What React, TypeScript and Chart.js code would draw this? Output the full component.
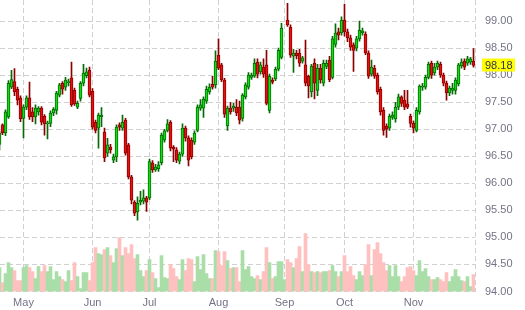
import React, { useEffect, useRef } from "react";
import { Chart, registerables } from "chart.js";

Chart.register(...registerables);

// Daily candles (index 95 is an empty session)
const opens: (number | null)[] = [
  96.72, 97.08, 96.93, 97.23, 97.78, 97.88, 97.74, 97.58, 97.2, 97.41,
  97.58, 97.32, 97.23, 97.32, 97.39, 97.24, 97.1, 97.11, 97.3, 97.35,
  97.63, 97.85, 97.78, 97.86, 97.95, 97.72, 97.41, 97.57, 97.85, 97.99,
  98.09, 97.7, 97.13, 97.02, 97.23, 96.95, 96.56, 96.67, 96.43, 96.49,
  97.08, 97.02, 97.17, 96.71, 96.12, 95.65, 95.47, 95.65, 95.67, 95.73,
  95.73, 96.38, 96.25, 96.27, 96.38, 96.8, 96.98, 97.13, 96.67, 96.62,
  96.41, 96.54, 97.02, 96.84, 96.8, 96.76, 96.98, 97.39, 97.39, 97.52,
  97.69, 97.83, 97.82, 98.37, 98.19, 97.91, 97.06, 97.39, 97.39, 97.41,
  97.41, 97.2, 97.6, 97.78, 97.96, 97.98, 98.24, 98.06, 98.15, 98.19,
  97.35, 97.91, 97.93, 98.11, 98.33, null, 99.02, 98.89, 98.35, 98.41,
  98.41, 98.26, 98.19, 97.98, 97.69, 98.22, 97.72, 98.13, 97.85, 98.16,
  98.28, 97.96, 98.57, 98.8, 98.78, 99.02, 98.8, 98.69, 98.56, 98.5,
  98.67, 98.78, 98.76, 98.41, 98.02, 98.13, 98.0, 97.74, 97.35, 97.06,
  97.02, 97.22, 97.19, 97.41, 97.6, 97.54, 97.47, 97.24, 97.11, 96.98,
  97.32, 97.78, 97.78, 97.96, 98.22, 98.04, 98.15, 98.2, 98.0, 97.85,
  97.67, 97.72, 97.72, 97.84, 98.17, 98.26, 98.22, 98.24, 98.26,
];
const highs: (number | null)[] = [
  96.96, 97.1, 97.36, 97.9, 98.09, 98.12, 97.78, 97.62, 97.45, 97.62,
  97.87, 97.4, 97.45, 97.42, 97.42, 97.27, 97.15, 97.34, 97.4, 97.7,
  97.85, 97.88, 97.96, 97.93, 98.24, 97.76, 97.52, 97.88, 98.2, 98.13,
  98.15, 97.75, 97.17, 97.3, 97.4, 97.02, 96.83, 96.72, 96.54, 97.08,
  97.12, 97.26, 97.2, 96.74, 96.15, 95.68, 95.75, 95.85, 95.88, 95.76,
  96.45, 96.42, 96.35, 96.4, 96.93, 97.0, 97.18, 97.16, 96.7, 96.66,
  96.58, 97.1, 97.06, 96.88, 96.84, 96.97, 97.45, 97.55, 97.6, 97.8,
  97.84, 97.98, 98.45, 98.67, 98.22, 97.94, 97.43, 97.5, 97.48, 97.55,
  97.52, 97.66, 97.86, 98.05, 98.04, 98.3, 98.3, 98.24, 98.3, 98.46,
  98.02, 97.95, 98.15, 98.5, 98.96, null, 99.33, 98.93, 98.48, 98.46,
  98.48, 98.35, 98.65, 98.0, 98.2, 98.3, 98.2, 98.2, 98.28, 98.28,
  98.35, 98.72, 98.95, 98.87, 99.08, 99.31, 98.85, 98.74, 98.6, 98.72,
  99.0, 98.87, 98.8, 98.45, 98.28, 98.18, 98.04, 97.78, 97.4, 97.1,
  97.28, 97.32, 97.5, 97.65, 97.62, 97.72, 97.72, 97.28, 97.15, 97.4,
  97.82, 97.85, 98.0, 98.24, 98.26, 98.22, 98.26, 98.24, 98.04, 97.89,
  97.8, 97.85, 97.95, 98.22, 98.3, 98.3, 98.35, 98.33, 98.49,
];
const lows: (number | null)[] = [
  96.62, 96.9, 96.88, 97.2, 97.75, 97.62, 97.45, 97.14, 96.84, 97.36,
  97.18, 97.14, 97.1, 97.26, 97.08, 96.89, 96.82, 97.05, 97.25, 97.28,
  97.6, 97.65, 97.72, 97.8, 97.42, 97.44, 97.38, 97.52, 97.8, 97.95,
  97.6, 97.0, 96.93, 96.65, 97.05, 96.4, 96.5, 96.56, 96.38, 96.4,
  96.98, 96.98, 96.52, 96.08, 95.62, 95.4, 95.32, 95.6, 95.62, 95.48,
  95.7, 96.2, 96.22, 96.22, 96.34, 96.76, 96.95, 96.6, 96.4, 96.38,
  96.36, 96.5, 96.78, 96.32, 96.45, 96.72, 96.95, 97.35, 97.22, 97.48,
  97.65, 97.74, 97.76, 98.1, 97.88, 97.22, 96.98, 97.28, 97.33, 97.25,
  97.1, 97.15, 97.56, 97.74, 97.92, 97.96, 97.95, 98.02, 97.96, 97.45,
  97.3, 97.84, 97.9, 98.08, 98.3, null, 98.9, 98.33, 98.05, 98.3,
  98.16, 98.22, 97.8, 97.58, 97.6, 97.56, 97.62, 97.85, 97.8, 98.12,
  97.88, 97.93, 98.52, 98.65, 98.74, 98.72, 98.62, 98.46, 98.07, 98.45,
  98.63, 98.74, 98.38, 97.94, 97.98, 97.94, 97.65, 97.26, 96.89, 96.85,
  96.98, 97.18, 97.13, 97.36, 97.42, 97.36, 97.38, 97.04, 96.93, 96.95,
  97.28, 97.72, 97.74, 97.93, 97.94, 98.0, 98.1, 97.96, 97.8, 97.54,
  97.62, 97.65, 97.65, 97.8, 98.13, 98.1, 98.18, 98.2, 98.15,
];
const closes: (number | null)[] = [
  96.93, 96.93, 97.32, 97.85, 97.92, 97.69, 97.54, 97.19, 97.41, 97.58,
  97.23, 97.23, 97.39, 97.39, 97.13, 97.1, 97.12, 97.3, 97.37, 97.67,
  97.82, 97.74, 97.91, 97.88, 97.45, 97.47, 97.48, 97.85, 98.04, 98.06,
  97.63, 97.04, 96.98, 97.26, 97.26, 96.47, 96.71, 96.62, 96.49, 97.04,
  97.04, 97.13, 96.56, 96.12, 95.69, 95.45, 95.63, 95.69, 95.73, 95.65,
  96.4, 96.25, 96.3, 96.34, 96.89, 96.97, 97.1, 96.65, 96.63, 96.43,
  96.54, 97.02, 96.84, 96.43, 96.49, 96.93, 97.41, 97.45, 97.56, 97.74,
  97.78, 97.78, 98.26, 98.13, 97.91, 97.28, 97.39, 97.32, 97.43, 97.3,
  97.17, 97.63, 97.82, 98.0, 98.0, 98.22, 98.02, 98.19, 98.02, 97.48,
  97.98, 97.87, 98.11, 98.46, 98.87, null, 98.93, 98.37, 98.41, 98.36,
  98.22, 98.32, 97.85, 97.8, 98.17, 97.85, 98.13, 97.91, 98.22, 98.22,
  97.91, 98.67, 98.78, 98.74, 99.02, 98.8, 98.69, 98.52, 98.46, 98.67,
  98.83, 98.82, 98.41, 97.98, 98.15, 97.98, 97.69, 97.32, 96.98, 97.0,
  97.24, 97.26, 97.41, 97.6, 97.48, 97.41, 97.41, 97.11, 97.02, 97.35,
  97.8, 97.8, 97.96, 98.2, 98.0, 98.15, 98.22, 98.0, 97.85, 97.67,
  97.76, 97.76, 97.91, 98.19, 98.24, 98.15, 98.3, 98.3, 98.18,
];
// Volume, thousands of contracts
const volumes: number[] = [
  24, 9, 18, 29, 24, 21, 11, 11, 24, 26, 24, 20, 13, 25, 20, 26, 20, 25, 12, 20,
  15, 12, 10, 21, 11, 29, 15, 3, 19, 19, 11, 29, 44, 38, 37, 42, 44, 36, 29, 43,
  54, 36, 44, 38, 47, 33, 37, 21, 15, 21, 32, 19, 13, 4, 36, 14, 13, 27, 23,
  15, 12, 32, 21, 33, 32, 10, 35, 22, 37, 18, 13, 13, 41, 40, 26, 40, 31, 23, 24,
  24, 10, 41, 22, 25, 15, 13, 16, 12, 20, 44, 29, 13, 15, 30, 30, 12, 32, 29, 24,
  33, 45, 20, 58, 27, 20, 19, 20, 19, 20, 20, 21, 26, 20, 15, 20, 36, 20,
  25,
  16, 12, 20, 16, 27, 47, 16, 42, 49, 38, 29, 21, 26, 15, 26, 15, 10, 15, 24, 25,
  21, 16, 31, 20, 23, 15, 12, 12, 14, 12, 10, 19, 10, 15, 22, 15, 11, 10, 15, 5, 17,
];
const monthTickIdx = [8, 31, 50, 73, 95, 115, 138];
const monthLabels = ["May", "Jun", "Jul", "Aug", "Sep", "Oct", "Nov"];
const priceTicks = [94, 94.5, 95, 95.5, 96, 96.5, 97, 97.5, 98, 98.5, 99];
const priceMin = 94;
const priceMax = 99.39;
const lastPrice = 98.18;

const X_MIN = 1 / 6;
const X_MAX = 158.5;
const VOL_MAX = 291.5;

const GREEN_BODY = "#14dc14";
const GREEN_LINE = "#056b05";
const RED_BODY = "#e81010";
const RED_LINE = "#8c0000";
const VOL_UP = "#aadea8";
const VOL_DOWN = "#ffc0c0";
const GRID = "#d0d0d0";
const LABEL = "#737386";
const FONT = "'Liberation Sans', Arial, sans-serif";

export default function App() {
  const ref = useRef<HTMLCanvasElement>(null);

  useEffect(() => {
    if (!ref.current) return;
    const isUp = (i: number) => closes[i] == null || (closes[i] as number) >= (opens[i] as number);
    const idx = closes.map((_, i) => i).filter((i) => closes[i] != null);

    const wickData = idx.map((i) => ({ x: i, y: [lows[i], highs[i]] }));
    const bodyData = idx.map((i) => ({ x: i, y: [opens[i], closes[i]] }));
    const volData = volumes.map((v, i) => ({ x: i, y: v }));

    const priceTag = {
      id: "priceTag",
      afterDraw(chart: any) {
        const c = chart.ctx;
        const y = chart.scales.y.getPixelForValue(lastPrice);
        c.save();
        c.fillStyle = "#ffff00";
        c.fillRect(482, Math.round(y) - 6.5, 33, 13);
        c.fillStyle = "#333344";
        c.font = `11px ${FONT}`;
        c.textBaseline = "middle";
        c.textAlign = "left";
        c.fillText(lastPrice.toFixed(2), 485, y + 0.5);
        c.restore();
      },
    };

    const chart = new Chart(ref.current, {
      type: "bar",
      data: {
        datasets: [
          {
            label: "body",
            data: bodyData as any,
            backgroundColor: idx.map((i) => (isUp(i) ? GREEN_BODY : RED_BODY)),
            borderColor: idx.map((i) => (isUp(i) ? GREEN_LINE : RED_LINE)),
            borderWidth: 1,
            borderSkipped: false,
            barThickness: 3,
            minBarLength: 1,
            grouped: false,
            order: 0,
            yAxisID: "y",
          } as any,
          {
            label: "wick",
            data: wickData as any,
            backgroundColor: idx.map((i) => (isUp(i) ? GREEN_LINE : RED_LINE)),
            borderWidth: 0,
            barThickness: 1,
            grouped: false,
            order: 1,
            yAxisID: "y",
          } as any,
          {
            label: "volume",
            data: volData as any,
            backgroundColor: volumes.map((_, i) => (isUp(i) ? VOL_UP : VOL_DOWN)),
            borderWidth: 0,
            barThickness: 3,
            grouped: false,
            order: 2,
            yAxisID: "vol",
          } as any,
        ],
      },
      options: {
        responsive: false,
        animation: false,
        devicePixelRatio: 1,
        events: [],
        layout: { padding: 0 },
        plugins: { legend: { display: false }, tooltip: { enabled: false } },
        scales: {
          x: {
            type: "linear",
            offset: false,
            min: X_MIN,
            max: X_MAX,
            afterBuildTicks: (scale: any) => {
              scale.ticks = [...monthTickIdx.map((v) => ({ value: v })), { value: X_MAX }];
            },
            afterFit: (scale: any) => {
              scale.height = 18.5;
              scale.paddingLeft = 0;
              scale.paddingRight = 0;
            },
            ticks: {
              autoSkip: false,
              maxRotation: 0,
              padding: 5,
              color: LABEL,
              font: { family: FONT, size: 11 },
              callback: (v: any) => {
                const k = monthTickIdx.indexOf(v);
                return k >= 0 ? monthLabels[k] : "";
              },
            },
            grid: { color: GRID, lineWidth: 1, drawTicks: false, offset: false },
            border: { display: false, dash: [5, 3] },
          },
          y: {
            type: "linear",
            position: "right",
            min: priceMin,
            max: priceMax,
            afterBuildTicks: (scale: any) => {
              scale.ticks = priceTicks.map((v) => ({ value: v }));
            },
            afterFit: (scale: any) => {
              scale.width = 50;
              scale.paddingTop = 0;
              scale.paddingBottom = 0;
            },
            ticks: {
              padding: 10,
              color: LABEL,
              font: { family: FONT, size: 11 },
              callback: (v: any) => Number(v).toFixed(2),
            },
            grid: { color: GRID, lineWidth: 1, drawTicks: false },
            border: { display: false, dash: [5, 3] },
          },
          vol: {
            type: "linear",
            display: false,
            min: 0,
            max: VOL_MAX,
          },
        },
      },
      plugins: [priceTag],
    } as any);

    return () => chart.destroy();
  }, []);

  return (
    <div style={{ position: "fixed", left: 0, top: 0, width: 525, height: 310, background: "#fff" }}>
      <canvas ref={ref} width={525} height={310} style={{ display: "block" }} />
    </div>
  );
}
